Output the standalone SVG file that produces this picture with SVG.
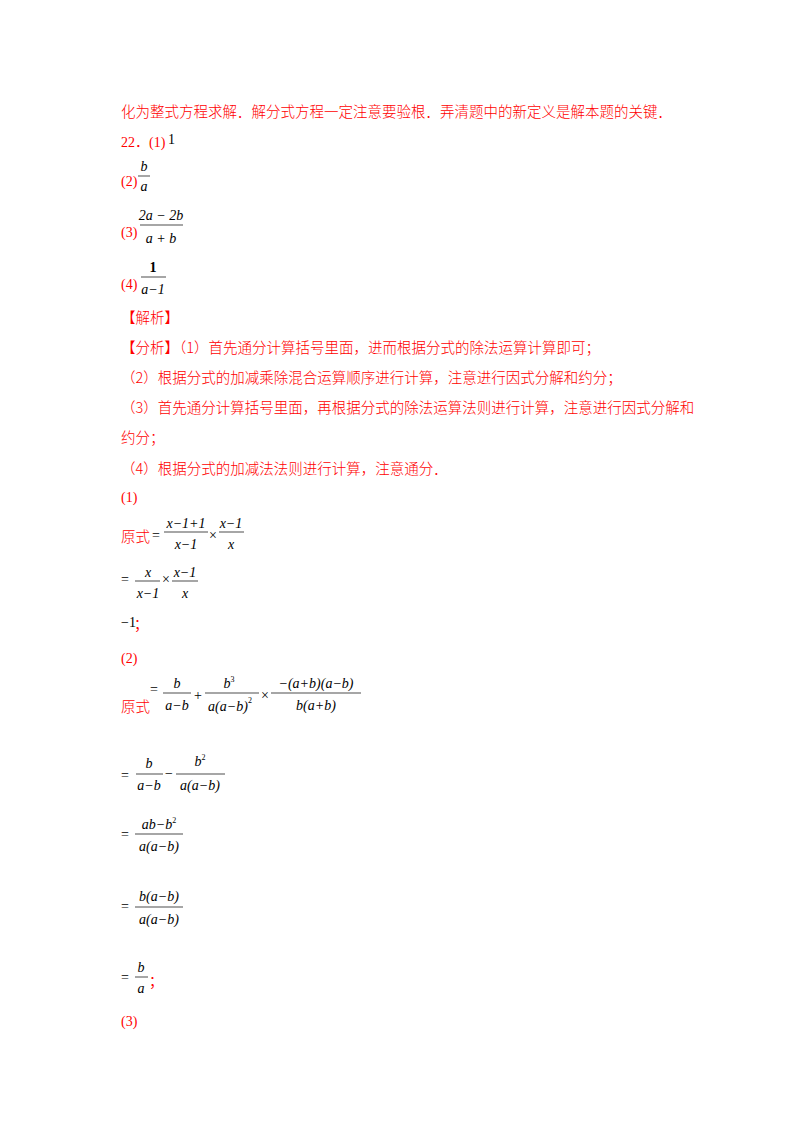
<svg xmlns="http://www.w3.org/2000/svg" width="800" height="1132" viewBox="0 0 800 1132">
<style>
.r{fill:#f00;font-family:"Liberation Serif","Noto Sans CJK SC",serif;font-size:14px}
.c{fill:#f00;font-family:"Noto Sans CJK SC",sans-serif;font-size:14.5px;font-weight:300}
.m{fill:#000;font-family:"Liberation Serif",serif;font-size:14px;font-style:italic}
.n{fill:#000;font-family:"Liberation Serif",serif;font-size:14px}
.s{font-size:8px}
line{stroke:#000;stroke-width:0.7}
</style>
<rect width="800" height="1132" fill="#fff"/>
<text class="c" x="121" y="117">化为整式方程求解．解分式方程一定注意要验根．弄清题中的新定义是解本题的关键．</text>
<text class="r" x="121" y="147">22．(1)</text><text class="n" x="168" y="144">1</text>
<text class="r" x="121" y="186">(2)</text>
<text class="m" x="144" y="171" text-anchor="middle">b</text><line x1="138" y1="176" x2="150" y2="176"/><text class="m" x="144" y="191" text-anchor="middle">a</text>
<text class="r" x="121" y="237">(3)</text>
<text class="m" x="161" y="220" text-anchor="middle">2a − 2b</text><line x1="140" y1="225" x2="183" y2="225"/><text class="m" x="161" y="243" text-anchor="middle">a + b</text>
<text class="r" x="121" y="289">(4)</text>
<text class="n" x="153" y="272" text-anchor="middle" font-weight="bold">1</text><line x1="141" y1="277" x2="166" y2="277"/><text class="m" x="153" y="294" text-anchor="middle">a−1</text>
<text class="c" x="121" y="323">【解析】</text>
<text class="c" x="121" y="353">【分析】（1）首先通分计算括号里面，进而根据分式的除法运算计算即可；</text>
<text class="c" x="121" y="383">（2）根据分式的加减乘除混合运算顺序进行计算，注意进行因式分解和约分；</text>
<text class="c" x="121" y="413">（3）首先通分计算括号里面，再根据分式的除法运算法则进行计算，注意进行因式分解和</text>
<text class="c" x="121" y="443">约分；</text>
<text class="c" x="121" y="474">（4）根据分式的加减法法则进行计算，注意通分．</text>
<text class="r" x="121" y="502">(1)</text>
<g>
<text class="c" x="121" y="542">原式</text><text class="n" x="152" y="540">=</text>
<text class="m" x="186" y="528" text-anchor="middle">x−1+1</text><line x1="164" y1="532" x2="208" y2="532"/><text class="m" x="186" y="549" text-anchor="middle">x−1</text>
<text class="n" x="209" y="540">×</text>
<text class="m" x="231" y="528" text-anchor="middle">x−1</text><line x1="219" y1="532" x2="244" y2="532"/><text class="m" x="231" y="549" text-anchor="middle">x</text>
</g>
<g>
<text class="n" x="121" y="584">=</text>
<text class="m" x="148" y="577" text-anchor="middle">x</text><line x1="135" y1="581" x2="160" y2="581"/><text class="m" x="148" y="598" text-anchor="middle">x−1</text>
<text class="n" x="162" y="584">×</text>
<text class="m" x="185" y="577" text-anchor="middle">x−1</text><line x1="172" y1="581" x2="198" y2="581"/><text class="m" x="185" y="598" text-anchor="middle">x</text>
</g>
<text class="n" x="121" y="627" font-size="11">−1</text><text class="r" x="134" y="629">；</text>
<text class="r" x="121" y="663">(2)</text>
<g>
<text class="c" x="121" y="712">原式</text><text class="n" x="150" y="694">=</text>
<text class="m" x="177" y="688" text-anchor="middle">b</text><line x1="163" y1="693" x2="191" y2="693"/><text class="m" x="177" y="710" text-anchor="middle">a−b</text>
<text class="n" x="194" y="700">+</text>
<text class="m" x="229" y="688" text-anchor="middle">b<tspan class="s" dy="-6" font-style="normal">3</tspan></text><line x1="205" y1="693" x2="259" y2="693"/><text class="m" x="230" y="711" text-anchor="middle">a(a−b)<tspan class="s" dy="-8" font-style="normal">2</tspan></text>
<text class="n" x="261" y="700">×</text>
<text class="m" x="316" y="688" text-anchor="middle">−(a+b)(a−b)</text><line x1="271" y1="693" x2="361" y2="693"/><text class="m" x="316" y="710" text-anchor="middle">b(a+b)</text>
</g>
<g>
<text class="n" x="121" y="780">=</text>
<text class="m" x="149" y="768" text-anchor="middle">b</text><line x1="136" y1="774" x2="163" y2="774"/><text class="m" x="149" y="790" text-anchor="middle">a−b</text>
<text class="n" x="165" y="778">−</text>
<text class="m" x="200" y="766" text-anchor="middle">b<tspan class="s" dy="-6" font-style="normal">2</tspan></text><line x1="176" y1="774" x2="225" y2="774"/><text class="m" x="200" y="790" text-anchor="middle">a(a−b)</text>
</g>
<g>
<text class="n" x="121" y="839">=</text>
<text class="m" x="159" y="829" text-anchor="middle">ab−b<tspan class="s" dy="-6" font-style="normal">2</tspan></text><line x1="135" y1="834" x2="183" y2="834"/><text class="m" x="159" y="851" text-anchor="middle">a(a−b)</text>
</g>
<g>
<text class="n" x="121" y="911">=</text>
<text class="m" x="159" y="901" text-anchor="middle">b(a−b)</text><line x1="135" y1="907" x2="183" y2="907"/><text class="m" x="159" y="924" text-anchor="middle">a(a−b)</text>
</g>
<g>
<text class="n" x="121" y="982">=</text>
<text class="m" x="141" y="972" text-anchor="middle">b</text><line x1="135" y1="977" x2="148" y2="977"/><text class="m" x="141" y="993" text-anchor="middle">a</text>
<text class="r" x="149" y="986">；</text>
</g>
<text class="r" x="121" y="1026">(3)</text>
</svg>
